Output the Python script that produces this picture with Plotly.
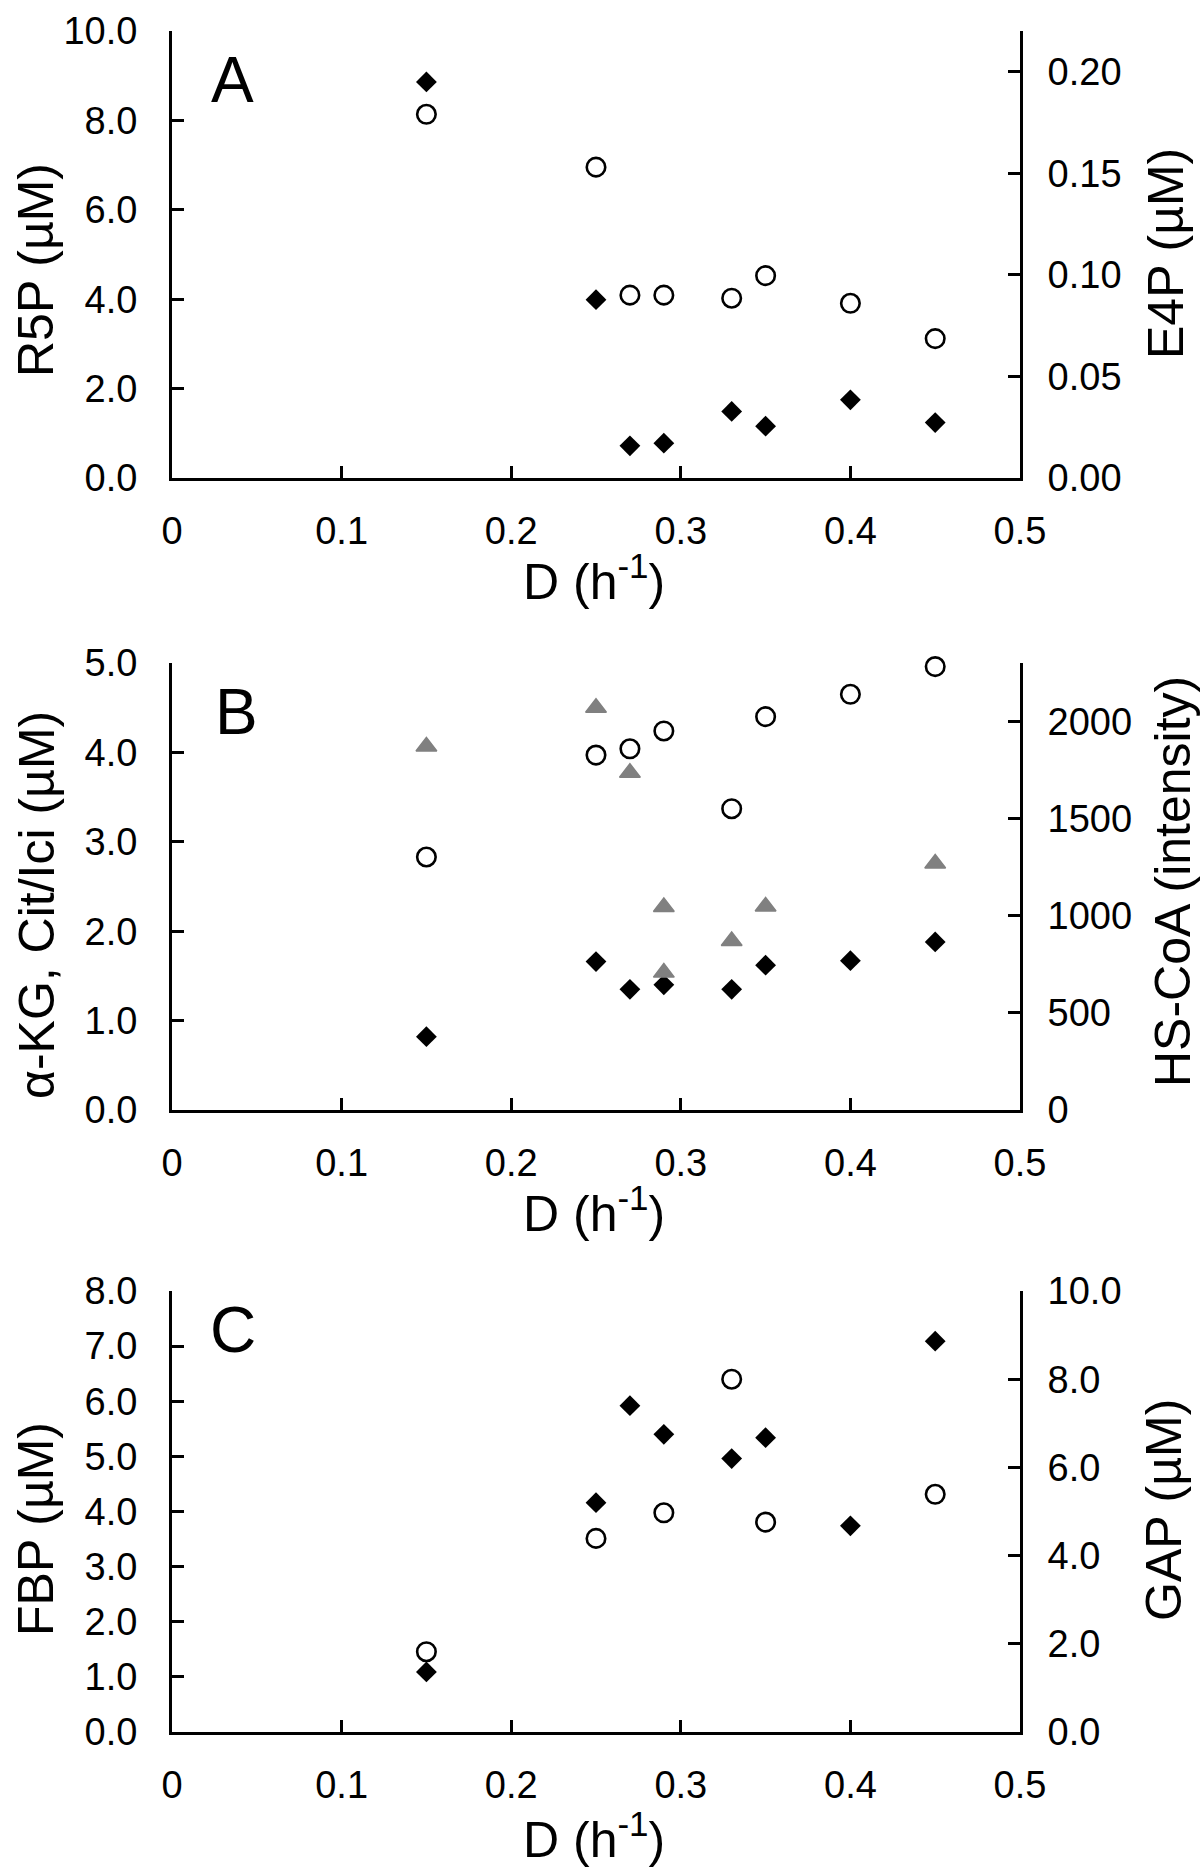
import plotly.graph_objects as go

# ---------------- data ----------------
D = [0.15, 0.25, 0.27, 0.29, 0.33, 0.35, 0.40, 0.45]

# Panel A
A_R5P = [8.86, 3.99, 0.72, 0.78, 1.49, 1.16, 1.75, 1.24]          # diamonds, left axis
A_E4P = [0.179, 0.153, 0.090, 0.090, 0.0885, 0.0996, 0.086, 0.0686]  # circles, right axis

# Panel B
B_aKG = [0.82, 1.66, 1.35, 1.40, 1.35, 1.62, 1.67, 1.88]          # diamonds, left axis
B_Cit = [2.83, 3.97, 4.04, 4.24, 3.37, 4.40, 4.65, 4.96]          # circles, left axis
B_D_CoA = [0.15, 0.25, 0.27, 0.29, 0.29, 0.33, 0.35, 0.45]
B_CoA = [1870, 2070, 1735, 1045, 707, 870, 1047, 1268]            # grey triangles, right axis

# Panel C
C_FBP = [1.09, 4.16, 5.92, 5.40, 4.96, 5.34, 3.74, 7.09]          # diamonds, left axis
C_D_GAP = [0.15, 0.25, 0.29, 0.33, 0.35, 0.45]
C_GAP = [1.82, 4.39, 4.97, 8.00, 4.76, 5.39]                      # circles, right axis

X_TICKS = [0, 0.1, 0.2, 0.3, 0.4, 0.5]
X_TICKTEXT = ["0", "0.1", "0.2", "0.3", "0.4", "0.5"]

# ---------------- layout helpers ----------------
W, H = 1200, 1876
FONT = "Liberation Sans, Arial, Helvetica, sans-serif"
TICKF = 38
TITLEF = 50
LW = 3

XL, XR = 172, 1020
panels = [  # top px, bottom px
    (31, 478),
    (663, 1110),
    (1291, 1732),
]


def px_x(x):
    return x / W


def px_y(y):
    return 1 - y / H


diamond = dict(symbol="diamond", size=16, color="black", line=dict(width=0))
circle = dict(symbol="circle-open", size=18.5, color="black", line=dict(width=2.6, color="black"))
triangle = dict(symbol="triangle-up", size=18, color="#808080", line=dict(width=1.5, color="#808080"))

fig = go.Figure()

# Panel A
fig.add_trace(go.Scatter(x=D, y=A_R5P, mode="markers", marker=diamond, xaxis="x", yaxis="y", cliponaxis=False, name="R5P"))
fig.add_trace(go.Scatter(x=D, y=A_E4P, mode="markers", marker=circle, xaxis="x", yaxis="y2", cliponaxis=False, name="E4P"))
# Panel B
fig.add_trace(go.Scatter(x=D, y=B_Cit, mode="markers", marker=circle, xaxis="x2", yaxis="y3", cliponaxis=False, name="Cit/Ici"))
fig.add_trace(go.Scatter(x=B_D_CoA, y=B_CoA, mode="markers", marker=triangle, xaxis="x2", yaxis="y4", cliponaxis=False, name="HS-CoA"))
fig.add_trace(go.Scatter(x=D, y=B_aKG, mode="markers", marker=diamond, xaxis="x2", yaxis="y3", cliponaxis=False, name="a-KG"))
# Panel C
fig.add_trace(go.Scatter(x=D, y=C_FBP, mode="markers", marker=diamond, xaxis="x3", yaxis="y5", cliponaxis=False, name="FBP"))
fig.add_trace(go.Scatter(x=C_D_GAP, y=C_GAP, mode="markers", marker=circle, xaxis="x3", yaxis="y6", cliponaxis=False, name="GAP"))

common_axis = dict(showgrid=False, zeroline=False, showline=True, linecolor="black", linewidth=LW,
                   tickcolor="black", tickwidth=LW, ticklen=12, automargin=False, ticks="inside",
                   tickfont=dict(family=FONT, size=TICKF, color="black"))

left_specs = [dict(range=[0, 10], dtick=2, tickformat=".1f"),
              dict(range=[0, 5], dtick=1, tickformat=".1f"),
              dict(range=[0, 8], dtick=1, tickformat=".1f")]
right_specs = [dict(range=[0, 0.22], dtick=0.05, tickformat=".2f"),
               dict(range=[0, 2300], dtick=500, tickformat="d"),
               dict(range=[0, 10], dtick=2, tickformat=".1f")]

layout = dict(width=W, height=H, margin=dict(l=0, r=0, t=0, b=0, pad=0, autoexpand=False),
              paper_bgcolor="white", plot_bgcolor="white", showlegend=False,
              font=dict(family=FONT, color="black"))

for i, (top, bot) in enumerate(panels):
    n = i + 1
    xname = "xaxis" if n == 1 else f"xaxis{n}"
    xid = "x" if n == 1 else f"x{n}"
    ly = 2 * i + 1
    ry = 2 * i + 2
    lname = "yaxis" if ly == 1 else f"yaxis{ly}"
    lid = "y" if ly == 1 else f"y{ly}"
    rname = f"yaxis{ry}"
    dom_y = [px_y(bot), px_y(top)]
    layout[xname] = dict(common_axis, domain=[px_x(XL), px_x(XR)], range=[0, 0.5],
                         tickvals=X_TICKS, ticktext=X_TICKTEXT,
                         anchor=lid, ticklabelstandoff=17)
    layout[lname] = dict(common_axis, domain=dom_y, anchor=xid, side="left",
                         ticklabelstandoff=24, tick0=0, **left_specs[i])
    layout[rname] = dict(common_axis, overlaying=lid, anchor=xid, side="right",
                         ticklabelstandoff=17, tick0=0, **right_specs[i])

fig.update_layout(**layout)

# ---------------- text annotations ----------------
letters = [("A", 233, 80), ("B", 236, 712), ("C", 233, 1330)]
for t, x, y in letters:
    fig.add_annotation(text=t, x=px_x(x), y=px_y(y), xref="paper", yref="paper", showarrow=False,
                       xanchor="center", yanchor="middle", font=dict(family=FONT, size=64, color="black"))

xtitle_y = [578, 1210, 1836]
for y in xtitle_y:
    fig.add_annotation(text="D (h<sup>-1</sup>)", x=px_x(594), y=px_y(y), xref="paper", yref="paper",
                       showarrow=False, xanchor="center", yanchor="middle",
                       font=dict(family=FONT, size=TITLEF, color="black"))

left_titles = [("R5P (µM)", 36, 270), ("α-KG, Cit/Ici (µM)", 37, 905), ("FBP (µM)", 36, 1529)]
right_titles = [("E4P (µM)", 1166, 254), ("HS-CoA (intensity)", 1173, 882), ("GAP (µM)", 1164, 1510)]
for t, x, y in left_titles + right_titles:
    fig.add_annotation(text=t, x=px_x(x), y=px_y(y), xref="paper", yref="paper", showarrow=False,
                       xanchor="center", yanchor="middle", textangle=-90,
                       font=dict(family=FONT, size=TITLEF, color="black"))

fig.write_html("out.html", config={"displayModeBar": False},
               post_script="document.body.style.margin='0';")
